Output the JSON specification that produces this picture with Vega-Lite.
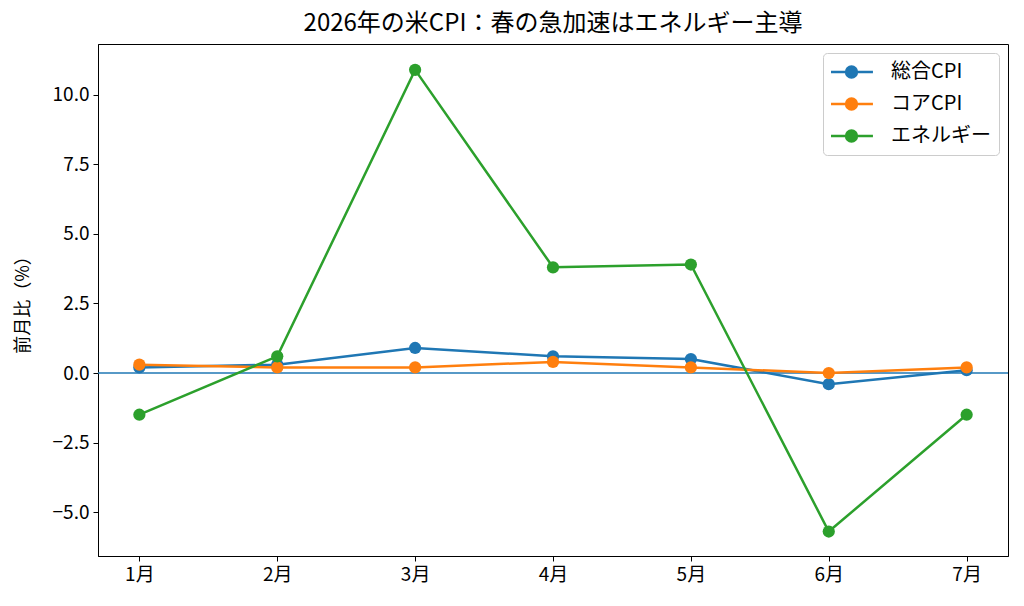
{
  "$schema": "https://vega.github.io/schema/vega-lite/v6.json",
  "width": 910,
  "height": 512,
  "autosize": {"type": "none"},
  "padding": {"left": 98, "top": 44, "right": 16, "bottom": 50},
  "title": {
    "text": "2026年の米CPI：春の急加速はエネルギー主導",
    "fontSize": 24,
    "fontWeight": "normal",
    "font": "Noto Sans CJK JP",
    "color": "black",
    "offset": 8
  },
  "data": {
    "values": [
      {"month": "1月", "series": "総合CPI", "value": 0.2},
      {"month": "2月", "series": "総合CPI", "value": 0.3},
      {"month": "3月", "series": "総合CPI", "value": 0.9},
      {"month": "4月", "series": "総合CPI", "value": 0.6},
      {"month": "5月", "series": "総合CPI", "value": 0.5},
      {"month": "6月", "series": "総合CPI", "value": -0.4},
      {"month": "7月", "series": "総合CPI", "value": 0.1},
      {"month": "1月", "series": "コアCPI", "value": 0.3},
      {"month": "2月", "series": "コアCPI", "value": 0.2},
      {"month": "3月", "series": "コアCPI", "value": 0.2},
      {"month": "4月", "series": "コアCPI", "value": 0.4},
      {"month": "5月", "series": "コアCPI", "value": 0.2},
      {"month": "6月", "series": "コアCPI", "value": 0.0},
      {"month": "7月", "series": "コアCPI", "value": 0.2},
      {"month": "1月", "series": "エネルギー", "value": -1.5},
      {"month": "2月", "series": "エネルギー", "value": 0.6},
      {"month": "3月", "series": "エネルギー", "value": 10.9},
      {"month": "4月", "series": "エネルギー", "value": 3.8},
      {"month": "5月", "series": "エネルギー", "value": 3.9},
      {"month": "6月", "series": "エネルギー", "value": -5.7},
      {"month": "7月", "series": "エネルギー", "value": -1.5}
    ]
  },
  "layer": [
    {
      "data": {"values": [{"zero": 0}]},
      "mark": {"type": "rule", "color": "#1f77b4", "strokeWidth": 1.3},
      "encoding": {
        "y": {"field": "zero", "type": "quantitative", "scale": {"domain": [-6.58, 11.83], "nice": false, "zero": false}}
      }
    },
    {
      "mark": {
        "type": "line",
        "strokeWidth": 2.5,
        "point": {"filled": true, "size": 150, "opacity": 1}
      },
      "encoding": {
        "x": {
          "field": "month",
          "type": "ordinal",
          "sort": ["1月", "2月", "3月", "4月", "5月", "6月", "7月"],
          "scale": {"type": "point", "padding": 0.3},
          "axis": {"labelAngle": 0, "title": null}
        },
        "y": {
          "field": "value",
          "type": "quantitative",
          "scale": {"domain": [-6.58, 11.83], "nice": false, "zero": false},
          "axis": {
            "values": [-5, -2.5, 0, 2.5, 5, 7.5, 10],
            "format": ".1f",
            "title": "前月比（%）",
            "titlePadding": 20,
            "titleFontSize": 18
          }
        },
        "color": {
          "field": "series",
          "type": "nominal",
          "sort": ["総合CPI", "コアCPI", "エネルギー"],
          "scale": {
            "domain": ["総合CPI", "コアCPI", "エネルギー"],
            "range": ["#1f77b4", "#ff7f0e", "#2ca02c"]
          },
          "legend": {
            "title": null,
            "orient": "top-right",
            "offset": 9,
            "fillColor": "white",
            "strokeColor": "#cccccc",
            "cornerRadius": 4,
            "padding": 8,
            "symbolOffset": 3,
            "clipHeight": 22,
            "symbolType": "M-1.34,0H1.34M0.34,0A0.34,0.34,0,1,1,-0.34,0A0.34,0.34,0,1,1,0.34,0Z",
            "symbolSize": 1024,
            "symbolStrokeWidth": 2.5,
            "labelOffset": 22,
            "labelFontSize": 20,
            "rowPadding": 10,
            "encode": {
              "symbols": {"update": {"fill": {"scale": "color", "field": "value"}, "fillOpacity": {"value": 1}}}
            }
          }
        }
      }
    }
  ],
  "config": {
    "font": "Noto Sans CJK JP",
    "view": {"stroke": "black", "strokeWidth": 1},
    "axis": {
      "grid": false,
      "domainColor": "black",
      "domainWidth": 1,
      "tickColor": "black",
      "tickSize": 5,
      "tickWidth": 1,
      "labelFont": "Noto Sans CJK JP",
      "labelFontSize": 19,
      "labelColor": "black",
      "labelPadding": 4,
      "titleFont": "Noto Sans CJK JP",
      "titleFontSize": 19,
      "titleFontWeight": "normal",
      "titleColor": "black"
    },
    "legend": {
      "labelFont": "Noto Sans CJK JP",
      "labelColor": "black"
    }
  }
}
